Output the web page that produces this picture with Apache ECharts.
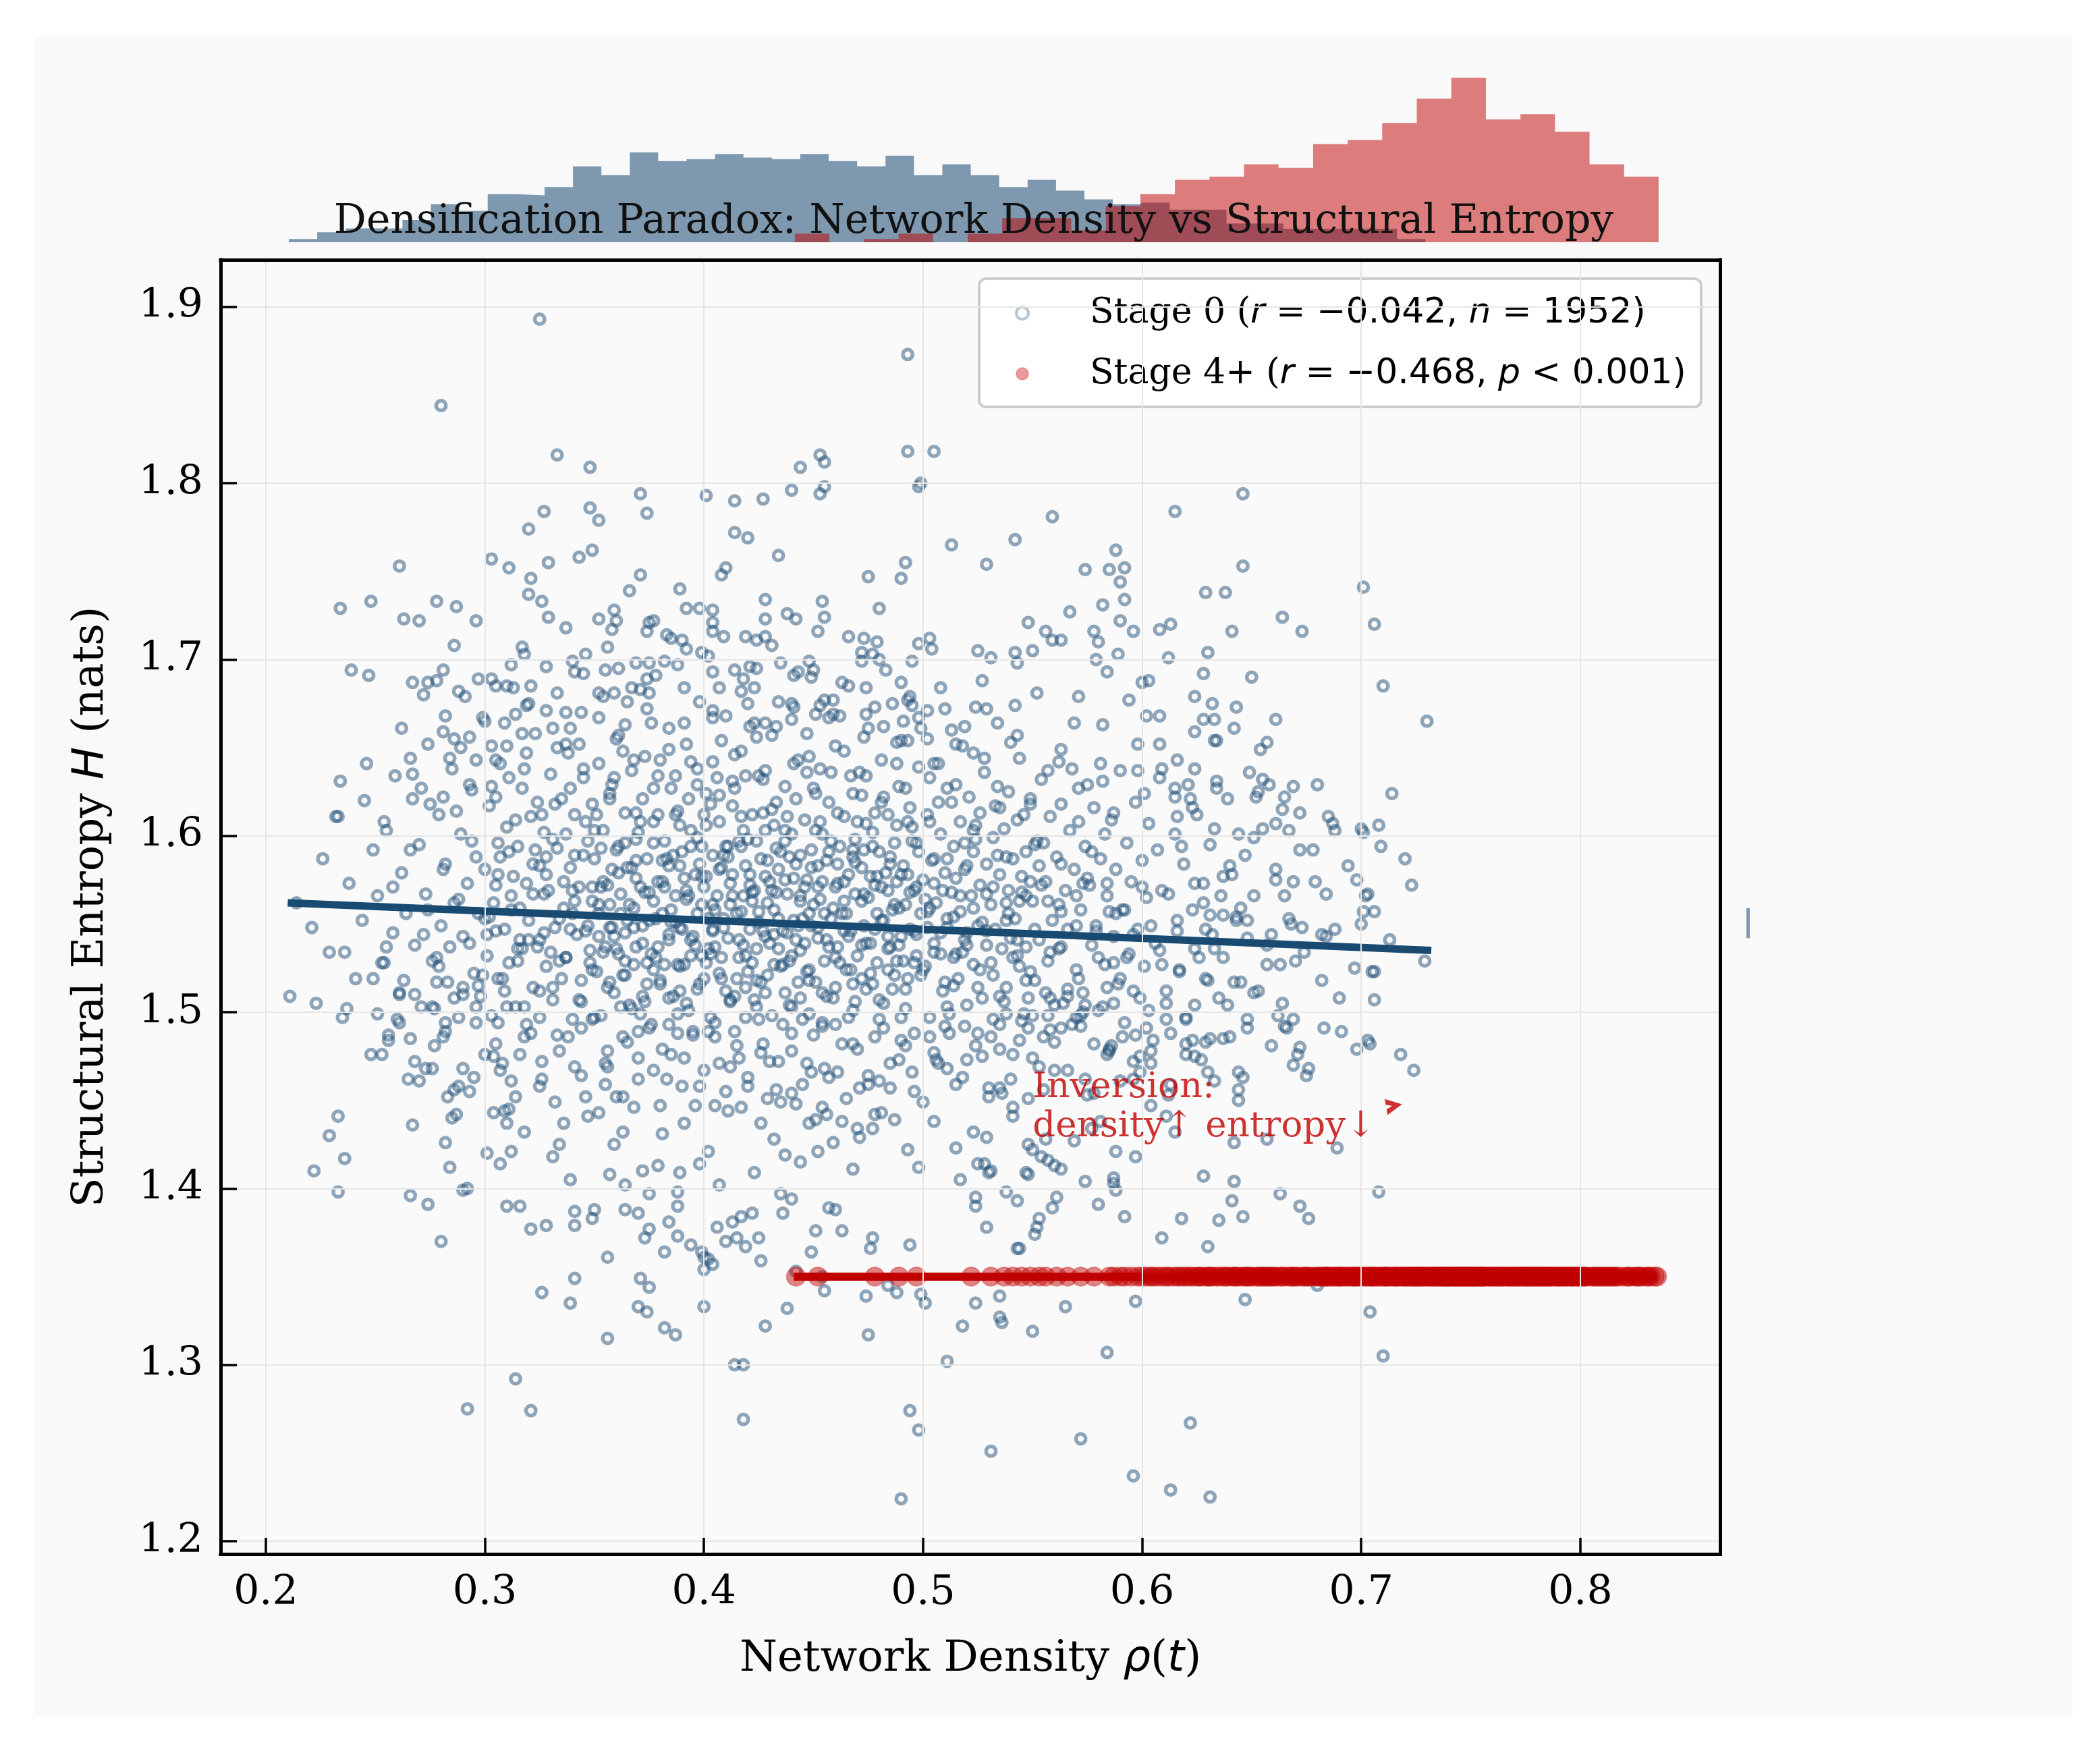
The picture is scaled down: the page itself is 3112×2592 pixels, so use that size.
<!DOCTYPE html>
<html>
<head>
<meta charset="utf-8">
<title>Densification Paradox</title>
<script src="https://cdn.jsdelivr.net/npm/echarts@6/dist/echarts.min.js"></script>
<style>
  html, body { margin: 0; padding: 0; background: #ffffff; }
  #chart { width: 3112px; height: 2592px; }
</style>
</head>
<body>
<div id="chart"></div>
<script>
// Stage 0 nodes: [network density, structural entropy]
const stage0Points = [
  [0.325,1.893],[0.280,1.844],[0.493,1.873],[0.333,1.816],[0.348,1.809],[0.493,1.818],[0.505,1.818],[0.444,1.809],[0.453,1.816],[0.455,1.812],
  [0.440,1.796],[0.453,1.794],[0.455,1.798],[0.498,1.798],[0.499,1.800],[0.371,1.794],[0.374,1.783],[0.327,1.784],[0.348,1.786],[0.352,1.779],
  [0.320,1.774],[0.401,1.793],[0.414,1.790],[0.427,1.791],[0.414,1.772],[0.420,1.769],[0.434,1.759],[0.349,1.762],[0.343,1.758],[0.329,1.755],
  [0.303,1.757],[0.311,1.752],[0.261,1.753],[0.321,1.746],[0.320,1.737],[0.326,1.733],[0.329,1.724],[0.371,1.748],[0.366,1.739],[0.389,1.740],
  [0.410,1.752],[0.408,1.748],[0.428,1.734],[0.475,1.747],[0.490,1.746],[0.492,1.755],[0.513,1.765],[0.480,1.729],[0.454,1.733],[0.438,1.726],
  [0.442,1.723],[0.455,1.724],[0.428,1.723],[0.392,1.729],[0.398,1.729],[0.404,1.728],[0.404,1.721],[0.404,1.716],[0.409,1.713],[0.419,1.713],
  [0.424,1.711],[0.428,1.713],[0.359,1.728],[0.360,1.722],[0.358,1.717],[0.352,1.723],[0.375,1.721],[0.377,1.722],[0.374,1.716],[0.385,1.712],
  [0.390,1.711],[0.392,1.706],[0.399,1.704],[0.234,1.729],[0.248,1.733],[0.263,1.723],[0.270,1.722],[0.278,1.733],[0.287,1.730],[0.296,1.722],
  [0.286,1.708],[0.317,1.707],[0.239,1.694],[0.247,1.691],[0.267,1.687],[0.274,1.687],[0.272,1.680],[0.281,1.694],[0.288,1.682],[0.291,1.679],
  [0.303,1.689],[0.305,1.685],[0.310,1.685],[0.321,1.685],[0.328,1.696],[0.340,1.699],[0.341,1.693],[0.346,1.703],[0.345,1.692],[0.355,1.694],
  [0.361,1.695],[0.369,1.698],[0.375,1.698],[0.382,1.699],[0.388,1.697],[0.378,1.691],[0.352,1.681],[0.359,1.681],[0.367,1.684],[0.371,1.683],
  [0.375,1.681],[0.391,1.684],[0.404,1.693],[0.414,1.694],[0.407,1.684],[0.421,1.696],[0.424,1.695],[0.435,1.698],[0.441,1.691],[0.448,1.699],
  [0.450,1.694],[0.449,1.690],[0.466,1.713],[0.473,1.712],[0.479,1.710],[0.472,1.704],[0.472,1.699],[0.480,1.700],[0.498,1.709],[0.504,1.706],
  [0.495,1.699],[0.466,1.685],[0.474,1.684],[0.490,1.687],[0.494,1.679],[0.493,1.677],[0.495,1.674],[0.502,1.671],[0.510,1.672],[0.455,1.677],
  [0.453,1.674],[0.440,1.675],[0.420,1.675],[0.459,1.669],[0.451,1.669],[0.440,1.666],[0.404,1.667],[0.423,1.664],[0.428,1.664],[0.474,1.669],
  [0.482,1.662],[0.490,1.654],[0.502,1.655],[0.491,1.665],[0.513,1.660],[0.282,1.668],[0.281,1.659],[0.286,1.655],[0.293,1.656],[0.289,1.650],
  [0.300,1.665],[0.303,1.651],[0.310,1.651],[0.314,1.669],[0.320,1.675],[0.317,1.658],[0.266,1.644],[0.267,1.635],[0.284,1.644],[0.234,1.631],
  [0.245,1.620],[0.233,1.611],[0.254,1.608],[0.275,1.618],[0.281,1.622],[0.293,1.629],[0.307,1.641],[0.311,1.633],[0.333,1.650],[0.339,1.661],
  [0.344,1.670],[0.337,1.670],
  [0.646,1.794],[0.615,1.784],[0.559,1.781],[0.542,1.768],[0.529,1.754],[0.588,1.762],[0.574,1.751],[0.585,1.751],[0.592,1.752],[0.590,1.744],
  [0.646,1.753],[0.701,1.741],[0.629,1.738],[0.638,1.738],[0.582,1.731],[0.567,1.727],[0.592,1.734],[0.548,1.721],[0.590,1.722],[0.596,1.716],
  [0.578,1.716],[0.580,1.710],[0.608,1.717],[0.613,1.720],[0.641,1.716],[0.664,1.724],[0.673,1.716],[0.706,1.720],[0.559,1.711],[0.563,1.711],
  [0.542,1.704],[0.543,1.698],[0.550,1.705],[0.525,1.705],[0.579,1.700],[0.589,1.703],[0.630,1.704],[0.628,1.692],[0.650,1.690],[0.600,1.687],
  [0.710,1.685],[0.730,1.665],[0.624,1.679],[0.632,1.675],[0.643,1.673],[0.608,1.668],[0.661,1.666],[0.628,1.666],[0.633,1.666],[0.624,1.659],
  [0.634,1.654],[0.657,1.653],[0.654,1.649],[0.616,1.643],[0.598,1.637],[0.608,1.633],[0.634,1.631],[0.634,1.627],[0.658,1.629],[0.653,1.625],
  [0.652,1.622],[0.669,1.628],[0.680,1.629],[0.714,1.624],[0.615,1.627],[0.615,1.622],[0.622,1.621],[0.623,1.616],[0.664,1.615],[0.661,1.607],
  [0.667,1.603],[0.672,1.613],[0.687,1.607],[0.688,1.603],[0.700,1.604],[0.701,1.602],[0.708,1.606],[0.651,1.599],[0.678,1.592],[0.720,1.587],
  [0.698,1.575],[0.684,1.567],[0.661,1.575],[0.669,1.574],[0.637,1.577],[0.665,1.566],[0.703,1.567],[0.700,1.550],[0.705,1.523],[0.704,1.482],
  [0.724,1.467],[0.690,1.508],[0.684,1.543],[0.669,1.470],[0.672,1.480],[0.665,1.492],
  [0.211,1.509],[0.223,1.505],[0.237,1.502],[0.236,1.534],[0.249,1.519],[0.251,1.499],[0.253,1.476],[0.256,1.484],[0.266,1.485],[0.260,1.496],
  [0.261,1.494],[0.254,1.528],[0.261,1.510],[0.268,1.510],[0.278,1.517],[0.278,1.531],[0.284,1.537],[0.276,1.503],[0.277,1.502],[0.282,1.494],
  [0.281,1.486],[0.290,1.514],[0.290,1.510],[0.296,1.503],[0.297,1.515],[0.296,1.494],[0.233,1.441],[0.229,1.430],[0.236,1.417],[0.222,1.410],
  [0.233,1.398],[0.267,1.436],[0.266,1.396],[0.274,1.391],[0.280,1.370],[0.273,1.468],[0.276,1.468],[0.270,1.461],[0.290,1.468],[0.283,1.452],
  [0.286,1.456],[0.288,1.458],[0.285,1.440],[0.287,1.442],[0.282,1.426],[0.284,1.412],[0.290,1.399],[0.292,1.400],[0.301,1.420],[0.307,1.414],
  [0.312,1.421],[0.309,1.444],[0.311,1.445],[0.314,1.452],[0.310,1.437],[0.300,1.476],[0.304,1.475],[0.307,1.467],[0.310,1.390],[0.316,1.390],
  [0.321,1.377],[0.328,1.379],[0.326,1.341],[0.339,1.405],[0.341,1.349],[0.339,1.335],[0.341,1.387],[0.341,1.379],[0.350,1.388],[0.349,1.383],
  [0.314,1.292],[0.292,1.275],[0.321,1.274],[0.356,1.361],[0.356,1.315],[0.364,1.402],[0.364,1.388],[0.370,1.386],[0.372,1.410],[0.375,1.397],
  [0.375,1.377],[0.373,1.372],[0.388,1.373],[0.384,1.381],[0.388,1.390],[0.388,1.398],[0.389,1.409],[0.382,1.364],[0.371,1.349],[0.375,1.344],
  [0.370,1.333],[0.374,1.330],[0.382,1.321],[0.387,1.317],[0.394,1.368],[0.399,1.364],[0.400,1.361],[0.404,1.357],[0.400,1.354],[0.402,1.360],
  [0.400,1.333],[0.406,1.378],[0.410,1.370],[0.415,1.372],[0.413,1.381],[0.417,1.384],[0.422,1.386],[0.419,1.367],[0.425,1.372],[0.426,1.359],
  [0.428,1.322],[0.414,1.300],[0.418,1.300],[0.418,1.269],[0.435,1.397],[0.436,1.386],[0.440,1.394],[0.438,1.332],[0.449,1.364],[0.442,1.353],
  [0.454,1.350],[0.455,1.342],[0.474,1.339],[0.475,1.317],[0.451,1.376],[0.463,1.376],[0.477,1.372],[0.476,1.366],[0.494,1.368],[0.488,1.341],
  [0.484,1.345],[0.499,1.340],[0.501,1.335],[0.511,1.302],[0.494,1.274],[0.498,1.263],[0.490,1.224],[0.518,1.322],[0.457,1.389],[0.460,1.388],
  [0.448,1.437],[0.451,1.439],[0.456,1.442],[0.463,1.438],[0.470,1.434],[0.477,1.434],[0.442,1.448],
  [0.531,1.251],[0.572,1.258],[0.596,1.237],[0.613,1.229],[0.631,1.225],[0.622,1.267],[0.584,1.307],[0.710,1.305],[0.704,1.330],[0.550,1.319],
  [0.535,1.327],[0.536,1.324],[0.565,1.333],[0.524,1.335],[0.597,1.336],[0.647,1.337],[0.680,1.345],[0.535,1.339],[0.543,1.366],[0.544,1.366],
  [0.529,1.378],[0.551,1.374],[0.552,1.378],[0.553,1.383],[0.609,1.372],[0.630,1.367],[0.618,1.383],[0.635,1.382],[0.646,1.384],[0.592,1.384],
  [0.580,1.391],[0.561,1.395],[0.559,1.389],[0.574,1.404],[0.587,1.406],[0.587,1.403],[0.588,1.399],[0.642,1.404],[0.641,1.393],[0.663,1.397],
  [0.672,1.390],[0.676,1.383],[0.708,1.398],[0.538,1.398],[0.543,1.393],[0.524,1.390],[0.524,1.395],[0.548,1.408],[0.531,1.410],[0.528,1.414],
  [0.557,1.416],[0.560,1.413],[0.563,1.411],[0.554,1.418],[0.550,1.422],[0.548,1.425],[0.530,1.409],[0.525,1.414],[0.689,1.423],[0.698,1.479],
  [0.703,1.484],[0.671,1.476],[0.675,1.464],[0.683,1.491],[0.664,1.505],[0.662,1.498],[0.666,1.491],[0.651,1.511],[0.639,1.504],[0.648,1.496],
  [0.648,1.491],[0.637,1.485],[0.631,1.485],[0.629,1.483],[0.623,1.484],[0.624,1.475],[0.620,1.476],[0.604,1.478],[0.599,1.475],[0.596,1.472],
  [0.644,1.466],[0.644,1.456],[0.644,1.450],[0.633,1.461],[0.620,1.496],[0.611,1.505],[0.611,1.496],[0.602,1.491],[0.603,1.501],[0.585,1.479],
  [0.591,1.486],[0.587,1.505],[0.584,1.514],[0.582,1.503],[0.570,1.497],[0.573,1.500],[0.574,1.504],[0.566,1.509],[0.560,1.504],[0.558,1.490],
  [0.557,1.498],[0.550,1.498],[0.548,1.491],[0.538,1.499],[0.532,1.496],[0.624,1.504],[0.630,1.518],[0.626,1.531],[0.657,1.527],[0.670,1.529],
  [0.706,1.523],[0.701,1.557],[0.706,1.557],[0.682,1.544],[0.673,1.548],[0.668,1.550],[0.648,1.552],[0.643,1.554],[0.637,1.555],[0.631,1.555],
  [0.214,1.562],[0.221,1.548],[0.226,1.587],[0.229,1.534],[0.232,1.611],[0.235,1.497],[0.238,1.573],[0.241,1.519],[0.244,1.552],[0.246,1.641],
  [0.248,1.476],[0.249,1.592],
  [0.251,1.566],[0.253,1.528],[0.255,1.603],[0.256,1.487],[0.258,1.545],[0.259,1.634],[0.261,1.511],[0.262,1.579],[0.264,1.556],[0.265,1.462],
  [0.267,1.621],[0.268,1.538],[0.270,1.595],[0.271,1.503],[0.273,1.567],[0.274,1.652],[0.276,1.529],[0.277,1.481],[0.279,1.612],[0.280,1.549],
  [0.282,1.584],[0.283,1.517],[0.285,1.638],[0.286,1.562],[0.288,1.497],[0.289,1.601],[0.290,1.543],[0.292,1.573],[0.293,1.455],[0.294,1.626],
  [0.295,1.522],[0.296,1.588],[0.297,1.556],[0.298,1.509],[0.299,1.667],
  [0.300,1.581],[0.301,1.532],[0.302,1.617],[0.303,1.498],[0.304,1.562],[0.305,1.643],[0.306,1.519],[0.307,1.588],[0.308,1.471],[0.309,1.547],
  [0.310,1.605],[0.311,1.528],[0.312,1.566],[0.313,1.684],[0.314,1.503],[0.315,1.594],[0.316,1.541],[0.317,1.627],[0.318,1.486],[0.319,1.573],
  [0.320,1.552],[0.321,1.611],[0.322,1.514],[0.323,1.658],[0.324,1.537],[0.325,1.583],[0.326,1.462],[0.327,1.602],[0.328,1.526],[0.329,1.569],
  [0.330,1.635],[0.331,1.507],[0.332,1.548],[0.333,1.593],[0.334,1.478],[0.335,1.621],[0.336,1.559],[0.337,1.531],[0.338,1.647],[0.339,1.582],
  [0.340,1.496],[0.341,1.612],[0.342,1.544],[0.343,1.571],[0.344,1.518],[0.345,1.633],[0.346,1.452],[0.347,1.597],[0.348,1.535],[0.349,1.563],
  [0.302,1.554],[0.306,1.596],[0.309,1.512],[0.313,1.577],[0.317,1.536],[0.321,1.488],[0.324,1.619],[0.327,1.545],[0.331,1.661],[0.334,1.529],
  [0.337,1.601],[0.341,1.563],[0.344,1.491],[0.347,1.549],[0.349,1.618],[0.304,1.443],[0.319,1.674],[0.336,1.437],[0.343,1.652],[0.328,1.588],
  [0.350,1.587],[0.351,1.523],[0.352,1.641],[0.352,1.556],[0.353,1.498],[0.354,1.603],[0.355,1.537],[0.356,1.572],[0.356,1.469],[0.357,1.624],
  [0.358,1.548],[0.359,1.511],[0.360,1.592],[0.360,1.655],[0.361,1.533],[0.362,1.567],[0.363,1.486],[0.364,1.613],[0.364,1.545],[0.365,1.582],
  [0.366,1.504],[0.367,1.637],[0.368,1.559],[0.368,1.527],[0.369,1.598],[0.370,1.474],[0.371,1.571],[0.372,1.621],[0.372,1.539],[0.373,1.506],
  [0.374,1.587],[0.375,1.552],[0.376,1.664],[0.376,1.493],[0.377,1.608],[0.378,1.531],[0.379,1.574],[0.380,1.518],[0.380,1.643],[0.381,1.556],
  [0.382,1.597],[0.383,1.462],[0.384,1.541],[0.384,1.583],[0.385,1.627],[0.386,1.509],[0.387,1.566],[0.388,1.488],[0.388,1.614],[0.389,1.548],
  [0.390,1.591],[0.391,1.527],[0.392,1.652],[0.392,1.569],[0.393,1.501],[0.394,1.603],[0.395,1.543],[0.396,1.578],[0.396,1.447],[0.397,1.629],
  [0.398,1.516],[0.399,1.561],[0.399,1.594],
  [0.351,1.612],[0.353,1.571],[0.355,1.459],[0.357,1.548],[0.359,1.633],[0.361,1.594],[0.363,1.521],[0.365,1.676],[0.367,1.582],[0.369,1.537],
  [0.371,1.499],[0.373,1.645],[0.375,1.568],[0.377,1.524],[0.379,1.612],[0.381,1.479],[0.383,1.587],[0.385,1.551],[0.387,1.634],[0.389,1.512],
  [0.391,1.576],[0.393,1.621],[0.395,1.487],[0.397,1.556],[0.399,1.532],[0.354,1.534],[0.358,1.581],[0.362,1.503],[0.366,1.561],[0.370,1.602],
  [0.374,1.528],[0.378,1.553],[0.382,1.527],[0.386,1.589],[0.390,1.547],[0.394,1.532],[0.398,1.584],
  [0.400,1.571],[0.401,1.528],[0.401,1.624],[0.402,1.553],[0.403,1.497],[0.404,1.589],[0.404,1.642],[0.405,1.537],[0.406,1.566],[0.407,1.471],
  [0.407,1.608],[0.408,1.519],[0.409,1.553],[0.410,1.594],[0.410,1.668],[0.411,1.542],[0.412,1.506],[0.413,1.578],[0.413,1.617],[0.414,1.489],
  [0.415,1.556],[0.416,1.531],[0.416,1.597],[0.417,1.648],[0.418,1.566],[0.419,1.514],[0.419,1.583],[0.420,1.458],[0.421,1.547],[0.422,1.612],
  [0.422,1.528],[0.423,1.569],[0.424,1.503],[0.425,1.634],[0.425,1.551],[0.426,1.587],[0.427,1.482],[0.428,1.543],[0.428,1.603],[0.429,1.521],
  [0.430,1.574],[0.431,1.657],[0.431,1.498],[0.432,1.558],[0.433,1.619],[0.434,1.536],[0.434,1.472],[0.435,1.591],[0.436,1.546],[0.437,1.511],
  [0.437,1.628],[0.438,1.567],[0.439,1.529],[0.440,1.601],[0.440,1.454],[0.441,1.552],[0.442,1.584],[0.443,1.517],[0.443,1.643],[0.444,1.563],
  [0.445,1.496],[0.446,1.609],[0.446,1.539],[0.447,1.575],[0.448,1.524],[0.449,1.592],[0.449,1.466],
  [0.400,1.612],[0.402,1.489],[0.404,1.547],[0.406,1.633],[0.408,1.582],[0.410,1.512],[0.412,1.561],[0.414,1.627],[0.416,1.474],[0.418,1.538],
  [0.420,1.598],[0.422,1.563],[0.424,1.656],[0.426,1.517],[0.428,1.577],[0.430,1.539],[0.432,1.606],[0.434,1.581],[0.436,1.493],[0.438,1.545],
  [0.440,1.532],[0.442,1.621],[0.444,1.508],[0.446,1.571],[0.448,1.556],[0.403,1.533],[0.407,1.581],[0.411,1.594],[0.415,1.519],[0.419,1.634],
  [0.423,1.507],[0.427,1.613],[0.431,1.569],[0.435,1.526],[0.439,1.588],[0.443,1.549],[0.447,1.636],[0.405,1.447],[0.417,1.682],[0.429,1.451],
  [0.441,1.673],[0.433,1.593],[0.421,1.578],
  [0.450,1.561],[0.451,1.517],[0.451,1.603],[0.452,1.548],[0.453,1.638],[0.454,1.492],[0.454,1.574],[0.455,1.529],[0.456,1.586],[0.457,1.463],
  [0.457,1.619],[0.458,1.553],[0.459,1.508],[0.460,1.571],[0.460,1.651],[0.461,1.537],[0.462,1.594],[0.463,1.482],[0.463,1.556],[0.464,1.611],
  [0.465,1.524],[0.466,1.578],[0.466,1.543],[0.467,1.634],[0.468,1.501],[0.469,1.567],[0.469,1.598],[0.470,1.532],[0.471,1.457],[0.472,1.582],
  [0.472,1.623],[0.473,1.549],[0.474,1.513],[0.475,1.565],[0.475,1.661],[0.476,1.539],[0.477,1.602],[0.478,1.486],[0.478,1.572],[0.479,1.528],
  [0.480,1.591],[0.481,1.552],[0.481,1.643],[0.482,1.505],[0.483,1.579],[0.484,1.536],[0.484,1.612],[0.485,1.471],[0.486,1.558],[0.487,1.596],
  [0.487,1.521],[0.488,1.574],[0.489,1.628],[0.490,1.543],[0.490,1.497],[0.491,1.583],[0.492,1.561],[0.493,1.519],[0.493,1.654],[0.494,1.547],
  [0.495,1.605],[0.496,1.488],[0.496,1.569],[0.497,1.532],[0.498,1.591],[0.499,1.556],
  [0.450,1.627],[0.452,1.583],[0.454,1.446],[0.456,1.541],[0.458,1.597],[0.460,1.514],[0.462,1.668],[0.464,1.563],[0.466,1.497],[0.468,1.588],
  [0.470,1.608],[0.472,1.519],[0.474,1.634],[0.476,1.577],[0.478,1.547],[0.480,1.461],[0.482,1.622],[0.484,1.569],[0.486,1.513],[0.488,1.606],
  [0.490,1.578],[0.492,1.481],[0.494,1.616],[0.496,1.528],[0.498,1.639],[0.455,1.556],[0.461,1.584],[0.467,1.524],[0.473,1.592],[0.479,1.556],
  [0.485,1.537],[0.491,1.529],[0.497,1.571],[0.459,1.677],
  [0.500,1.575],[0.501,1.526],[0.502,1.612],[0.502,1.548],[0.503,1.497],[0.504,1.586],[0.505,1.641],[0.505,1.534],[0.506,1.562],[0.507,1.471],
  [0.508,1.601],[0.508,1.545],[0.509,1.512],[0.510,1.579],[0.511,1.627],[0.511,1.553],[0.512,1.488],[0.513,1.568],[0.514,1.531],[0.514,1.594],
  [0.515,1.652],[0.516,1.519],[0.517,1.557],[0.517,1.608],[0.518,1.463],[0.519,1.541],[0.520,1.583],[0.520,1.504],[0.521,1.622],[0.522,1.566],
  [0.523,1.527],[0.523,1.591],[0.524,1.481],[0.525,1.549],[0.526,1.613],[0.526,1.572],[0.527,1.508],[0.528,1.636],[0.529,1.538],[0.529,1.584],
  [0.530,1.457],[0.531,1.561],[0.532,1.599],[0.532,1.521],[0.533,1.547],[0.534,1.664],[0.535,1.578],[0.535,1.493],[0.536,1.536],[0.537,1.604],
  [0.538,1.562],[0.538,1.514],[0.539,1.625],[0.540,1.542],[0.541,1.476],[0.541,1.587],[0.542,1.553],[0.543,1.609],[0.544,1.526],[0.544,1.644],
  [0.545,1.568],[0.546,1.499],[0.547,1.591],[0.547,1.537],[0.548,1.451],[0.549,1.574],[0.549,1.618],
  [0.503,1.559],[0.507,1.619],[0.511,1.503],[0.515,1.576],[0.519,1.596],[0.523,1.647],[0.527,1.551],[0.531,1.486],[0.535,1.616],[0.539,1.569],
  [0.543,1.532],[0.547,1.566],[0.506,1.473],[0.518,1.534],[0.524,1.673],[0.536,1.454],[0.542,1.674],[0.548,1.508],
  [0.550,1.563],[0.551,1.518],[0.552,1.597],[0.553,1.541],[0.554,1.632],[0.555,1.486],[0.556,1.574],[0.557,1.529],[0.558,1.611],[0.559,1.552],
  [0.560,1.467],[0.561,1.588],[0.562,1.536],[0.563,1.649],[0.564,1.505],[0.565,1.569],[0.566,1.547],[0.567,1.603],[0.568,1.493],[0.569,1.581],
  [0.570,1.524],[0.571,1.627],[0.572,1.558],[0.573,1.511],[0.574,1.594],[0.575,1.453],[0.576,1.572],[0.577,1.538],[0.578,1.616],[0.579,1.549],
  [0.580,1.501],[0.581,1.587],[0.582,1.663],[0.583,1.527],[0.584,1.566],[0.585,1.478],[0.586,1.609],[0.587,1.543],[0.588,1.581],[0.589,1.516],
  [0.590,1.637],[0.591,1.558],[0.592,1.494],[0.593,1.596],[0.594,1.533],[0.595,1.574],[0.596,1.462],[0.597,1.619],[0.598,1.547],[0.599,1.508],
  [0.553,1.583],[0.558,1.508],[0.563,1.557],[0.568,1.638],[0.573,1.573],[0.578,1.482],[0.583,1.601],[0.588,1.556],[0.593,1.531],[0.598,1.652],
  [0.600,1.571],[0.601,1.526],[0.603,1.607],[0.604,1.549],[0.605,1.484],[0.607,1.592],[0.608,1.535],[0.609,1.638],[0.611,1.512],[0.612,1.567],
  [0.613,1.459],[0.615,1.601],[0.616,1.546],[0.617,1.523],[0.619,1.584],[0.620,1.497],[0.621,1.629],[0.623,1.558],[0.624,1.536],[0.625,1.612],
  [0.627,1.473],[0.628,1.573],[0.629,1.519],[0.631,1.595],[0.632,1.544],[0.633,1.654],[0.635,1.508],[0.636,1.566],[0.637,1.531],[0.639,1.621],
  [0.640,1.486],[0.641,1.578],[0.643,1.552],[0.644,1.601],[0.645,1.517],[0.646,1.463],[0.647,1.589],[0.648,1.542],[0.649,1.636],[0.602,1.668],
  [0.651,1.566],[0.653,1.512],[0.655,1.604],[0.657,1.538],[0.659,1.481],[0.661,1.581],[0.663,1.527],[0.665,1.622],[0.667,1.553],[0.669,1.496],
  [0.672,1.592],[0.674,1.534],[0.676,1.468],[0.679,1.574],[0.682,1.518],[0.685,1.611],[0.688,1.547],[0.691,1.489],[0.694,1.583],[0.697,1.525],
  [0.702,1.566],[0.706,1.507],[0.709,1.594],[0.713,1.541],[0.718,1.476],[0.723,1.572],[0.729,1.529],
  [0.262,1.661],[0.271,1.627],[0.278,1.688],[0.287,1.614],[0.296,1.643],[0.305,1.622],[0.312,1.697],[0.318,1.638],[0.326,1.612],[0.333,1.681],
  [0.339,1.627],[0.346,1.608],[0.352,1.667],[0.358,1.629],[0.363,1.648],[0.369,1.613],[0.374,1.689],[0.379,1.634],[0.384,1.661],[0.389,1.606],
  [0.394,1.642],[0.398,1.676],[0.403,1.618],[0.408,1.654],[0.413,1.631],[0.418,1.603],[0.423,1.684],[0.428,1.637],[0.433,1.662],[0.438,1.611],
  [0.443,1.693],[0.448,1.645],[0.453,1.608],[0.458,1.636],[0.463,1.687],[0.468,1.624],[0.473,1.656],[0.478,1.613],[0.483,1.694],[0.488,1.641],
  [0.493,1.608],[0.498,1.667],[0.503,1.633],[0.508,1.684],[0.513,1.619],[0.518,1.651],[0.524,1.606],[0.529,1.672],[0.534,1.628],[0.540,1.653],
  [0.546,1.612],[0.552,1.681],[0.557,1.637],[0.563,1.618],[0.569,1.664],[0.575,1.629],[0.581,1.641],[0.587,1.613],[0.594,1.677],[0.601,1.624],
  [0.608,1.652],[0.616,1.611],[0.624,1.638],[0.633,1.604],[0.642,1.661],[0.655,1.632],
  [0.258,1.571],[0.266,1.592],[0.274,1.558],[0.281,1.581],[0.288,1.564],[0.294,1.597],[0.300,1.553],[0.306,1.578],[0.311,1.591],[0.316,1.559],
  [0.322,1.584],[0.327,1.567],[0.331,1.598],[0.336,1.574],[0.340,1.556],[0.345,1.589],[0.349,1.571],[0.353,1.593],[0.357,1.561],[0.361,1.579],
  [0.365,1.552],[0.369,1.586],[0.373,1.568],[0.377,1.596],[0.381,1.574],[0.385,1.558],[0.389,1.583],[0.393,1.566],[0.397,1.599],[0.401,1.577],
  [0.405,1.558],[0.409,1.589],[0.413,1.566],[0.417,1.594],[0.421,1.572],[0.425,1.557],[0.429,1.586],[0.433,1.568],[0.437,1.597],[0.441,1.576],
  [0.445,1.553],[0.449,1.582],[0.453,1.564],[0.457,1.591],[0.461,1.573],[0.465,1.556],[0.469,1.585],[0.473,1.567],[0.477,1.594],[0.481,1.571],
  [0.485,1.588],[0.489,1.559],[0.493,1.578],[0.497,1.596],[0.501,1.564],[0.505,1.587],[0.509,1.569],[0.514,1.554],[0.519,1.581],[0.524,1.598],
  [0.529,1.567],[0.534,1.589],[0.539,1.556],[0.545,1.577],[0.551,1.595],[0.557,1.563],[0.563,1.584],[0.570,1.566],[0.577,1.591],[0.584,1.573],
  [0.592,1.558],[0.600,1.586],[0.609,1.569],[0.618,1.594],[0.628,1.562],[0.640,1.583],
  [0.255,1.537],[0.263,1.518],[0.272,1.544],[0.279,1.526],[0.286,1.508],[0.293,1.539],[0.299,1.521],[0.305,1.546],[0.310,1.503],[0.315,1.529],
  [0.320,1.541],[0.325,1.512],[0.330,1.534],[0.335,1.519],[0.339,1.547],[0.344,1.506],[0.348,1.528],[0.352,1.543],[0.356,1.514],[0.360,1.536],
  [0.364,1.521],[0.368,1.548],[0.372,1.509],[0.376,1.533],[0.380,1.516],[0.384,1.544],[0.388,1.527],[0.392,1.505],[0.396,1.538],[0.400,1.519],
  [0.404,1.546],[0.408,1.531],[0.412,1.507],[0.416,1.541],[0.420,1.523],[0.424,1.536],[0.428,1.511],[0.432,1.544],[0.436,1.527],[0.440,1.503],
  [0.444,1.535],[0.448,1.518],[0.452,1.542],[0.456,1.509],[0.460,1.531],[0.464,1.546],[0.468,1.516],[0.472,1.538],[0.476,1.522],[0.480,1.507],
  [0.484,1.543],[0.488,1.529],[0.492,1.513],[0.496,1.546],[0.500,1.524],[0.505,1.539],[0.510,1.517],[0.515,1.533],[0.520,1.545],[0.525,1.514],
  [0.531,1.528],[0.537,1.506],[0.543,1.541],[0.549,1.523],[0.556,1.511],[0.563,1.537],[0.571,1.519],[0.579,1.546],[0.587,1.528],[0.596,1.512],
  [0.606,1.539],[0.617,1.524],[0.629,1.547],[0.642,1.517],
  [0.268,1.472],[0.282,1.489],[0.295,1.463],[0.306,1.494],[0.316,1.476],[0.325,1.458],[0.333,1.487],[0.341,1.469],[0.349,1.496],[0.356,1.478],
  [0.363,1.452],[0.370,1.489],[0.377,1.467],[0.384,1.493],[0.391,1.474],[0.398,1.458],[0.405,1.486],[0.412,1.469],[0.419,1.497],[0.426,1.477],
  [0.433,1.456],[0.440,1.488],[0.447,1.471],[0.454,1.494],[0.461,1.466],[0.468,1.482],[0.475,1.459],[0.482,1.491],[0.489,1.473],[0.496,1.455],
  [0.503,1.486],[0.511,1.468],[0.519,1.492],[0.527,1.475],[0.535,1.457],[0.544,1.484],[0.553,1.469],[0.563,1.491],[0.574,1.462],[0.586,1.481],
  [0.599,1.466],[0.613,1.488],
  [0.318,1.432],[0.331,1.418],[0.347,1.441],[0.359,1.425],[0.368,1.446],[0.379,1.413],[0.391,1.437],[0.402,1.421],[0.411,1.444],[0.423,1.409],
  [0.432,1.428],[0.444,1.415],[0.459,1.426],[0.468,1.411],[0.481,1.443],[0.493,1.422],[0.505,1.438],[0.517,1.405],[0.529,1.429],[0.541,1.441],
  [0.569,1.427],[0.581,1.438],[0.597,1.418],[0.615,1.432],[0.628,1.407],[0.657,1.428],
  [0.303,1.628],[0.309,1.664],[0.314,1.609],[0.319,1.647],[0.323,1.592],[0.328,1.671],[0.332,1.618],[0.337,1.652],[0.341,1.589],[0.345,1.638],
  [0.350,1.603],[0.354,1.679],[0.357,1.621],[0.361,1.657],[0.364,1.596],[0.368,1.643],[0.371,1.608],[0.374,1.672],[0.377,1.627],[0.381,1.586],
  [0.384,1.649],[0.387,1.612],[0.391,1.664],[0.394,1.594],[0.397,1.638],[0.401,1.606],[0.404,1.671],[0.407,1.623],[0.411,1.588],[0.414,1.646],
  [0.417,1.611],[0.421,1.662],[0.424,1.597],[0.427,1.632],[0.431,1.615],[0.434,1.676],[0.437,1.603],[0.441,1.641],[0.444,1.589],[0.447,1.658],
  [0.451,1.624],[0.454,1.601],[0.457,1.667],[0.461,1.613],[0.464,1.648],[0.468,1.592],[0.471,1.636],[0.474,1.607],[0.478,1.673],[0.481,1.619],
  [0.485,1.584],[0.488,1.653],[0.492,1.627],[0.495,1.597],[0.499,1.661],[0.503,1.608],[0.507,1.641],[0.511,1.587],[0.515,1.629],[0.519,1.662],
  [0.523,1.603],[0.528,1.644],[0.533,1.617],[0.538,1.588],[0.543,1.657],[0.549,1.621],[0.555,1.596],[0.562,1.642],[0.571,1.608],[0.582,1.631],
  [0.301,1.544],[0.305,1.572],[0.308,1.519],[0.312,1.558],[0.315,1.536],[0.318,1.503],[0.322,1.567],[0.325,1.541],[0.328,1.578],[0.331,1.514],
  [0.334,1.553],[0.337,1.531],[0.340,1.569],[0.343,1.507],[0.346,1.546],[0.349,1.524],[0.352,1.561],[0.354,1.574],[0.357,1.517],[0.359,1.543],
  [0.362,1.556],[0.364,1.529],[0.367,1.502],[0.369,1.576],[0.372,1.549],[0.374,1.516],[0.377,1.563],[0.379,1.537],[0.382,1.571],[0.384,1.508],
  [0.387,1.551],[0.389,1.526],[0.392,1.564],[0.394,1.541],[0.397,1.513],[0.399,1.577],[0.402,1.536],[0.404,1.561],[0.407,1.522],[0.409,1.548],
  [0.412,1.573],[0.414,1.509],[0.417,1.557],[0.419,1.532],[0.422,1.568],[0.424,1.518],[0.427,1.546],[0.429,1.562],[0.432,1.527],[0.434,1.553],
  [0.437,1.575],[0.439,1.504],[0.442,1.541],[0.444,1.566],[0.447,1.523],[0.449,1.549],[0.452,1.571],[0.454,1.511],[0.457,1.537],[0.459,1.559],
  [0.462,1.528],[0.464,1.574],[0.467,1.546],[0.469,1.506],[0.472,1.563],[0.474,1.539],[0.477,1.516],[0.479,1.577],[0.482,1.552],[0.484,1.524],
  [0.487,1.561],[0.489,1.538],[0.492,1.502],[0.494,1.568],[0.497,1.544],[0.499,1.521],[0.502,1.557],[0.505,1.573],[0.508,1.533],[0.511,1.548],
  [0.514,1.515],[0.517,1.566],[0.520,1.538],[0.523,1.559],[0.526,1.524],[0.529,1.546],[0.532,1.571],[0.535,1.509],[0.538,1.552],[0.541,1.531],
  [0.544,1.563],[0.547,1.518],[0.551,1.547],[0.554,1.572],[0.558,1.534],[0.562,1.561],[0.566,1.513],[0.570,1.549],[0.575,1.576],[0.580,1.531],
  [0.585,1.557],[0.590,1.519],[0.596,1.544],[0.602,1.565],[0.609,1.527],[0.616,1.552],[0.624,1.573],[0.633,1.536],[0.645,1.559],[0.659,1.544],
  [0.305,1.482],[0.312,1.461],[0.319,1.493],[0.326,1.472],[0.332,1.449],[0.338,1.486],[0.344,1.464],[0.350,1.497],[0.355,1.471],[0.360,1.452],
  [0.365,1.483],[0.370,1.462],[0.375,1.491],[0.380,1.447],[0.385,1.476],[0.390,1.458],[0.395,1.489],[0.400,1.467],[0.405,1.494],[0.410,1.455],
  [0.415,1.481],[0.420,1.463],[0.425,1.496],[0.430,1.472],[0.435,1.449],[0.440,1.478],[0.445,1.459],[0.450,1.487],[0.455,1.468],[0.460,1.493],
  [0.465,1.451],[0.470,1.479],[0.475,1.464],[0.480,1.496],[0.485,1.457],[0.490,1.484],[0.495,1.466],[0.500,1.449],[0.505,1.477],[0.510,1.492],
  [0.515,1.459],[0.520,1.473],[0.525,1.488],[0.530,1.452],[0.535,1.479],[0.540,1.462],[0.545,1.495],[0.550,1.474],[0.555,1.456],[0.560,1.483],
  [0.566,1.467],[0.572,1.492],[0.578,1.454],[0.584,1.476],[0.590,1.461],[0.597,1.487],[0.604,1.471],[0.612,1.453],[0.620,1.482],[0.630,1.466],
  [0.325,1.497],[0.352,1.443],[0.388,1.499],[0.417,1.446],[0.448,1.499],[0.478,1.442],[0.512,1.499],[0.541,1.446],[0.572,1.498],[0.604,1.447],
  [0.318,1.703],[0.337,1.718],[0.356,1.707],[0.383,1.714],[0.402,1.702],[0.431,1.708],[0.452,1.716],[0.477,1.703],[0.503,1.712],[0.531,1.701],
  [0.556,1.716],[0.584,1.693],[0.612,1.701],[0.297,1.689],[0.364,1.663],[0.418,1.689],[0.486,1.675],[0.527,1.688],[0.571,1.679],[0.603,1.688],
  [0.334,1.425],[0.357,1.408],[0.381,1.431],[0.398,1.414],[0.426,1.437],[0.452,1.421],[0.471,1.429],[0.498,1.412],[0.523,1.432],[0.556,1.428],
  [0.588,1.421],[0.611,1.441],[0.642,1.426],[0.363,1.432],[0.407,1.402],[0.437,1.419],[0.487,1.439],[0.515,1.423],[0.547,1.409],[0.577,1.434]
];

// Stage 4+ nodes: densities, all sitting at one entropy level
const stage4Density = [
  0.442,0.452,0.478,0.489,0.497,0.522,0.531,0.537,0.541,0.545,0.549,0.553,0.556,0.561,0.566,0.572,0.578,
  0.585,0.587,0.590,0.592,0.595,0.598,0.600,0.602,0.604,0.605,0.607,0.609,0.611,0.612,0.614,
  0.616,0.617,0.619,0.620,0.622,0.623,0.625,0.626,0.627,0.629,0.630,
  0.631,0.632,0.634,0.635,0.637,0.638,0.639,0.641,0.642,0.643,0.644,0.646,
  0.647,0.648,0.649,0.650,0.652,0.653,0.654,0.655,0.656,0.657,0.658,0.659,0.660,0.661,
  0.663,0.664,0.665,0.667,0.668,0.669,0.670,0.671,0.673,0.674,0.675,0.676,0.677,
  0.679,0.680,0.681,0.682,0.683,0.684,0.684,0.685,0.686,0.687,0.688,0.689,0.690,0.690,0.691,0.692,0.693,
  0.694,0.695,0.696,0.697,0.697,0.698,0.699,0.700,0.701,0.702,0.703,0.704,0.705,0.705,0.706,0.707,0.708,0.709,
  0.710,0.711,0.711,0.712,0.713,0.714,0.715,0.716,0.716,0.717,0.718,0.719,0.720,0.720,0.721,0.722,0.723,0.723,0.724,0.725,0.725,
  0.726,0.726,0.727,0.728,0.728,0.729,0.730,0.731,0.731,0.732,0.733,0.733,0.734,0.735,0.735,0.736,0.737,0.737,0.738,0.738,0.739,0.739,0.740,0.740,0.741,
  0.742,0.742,0.743,0.743,0.744,0.744,0.745,0.745,0.746,0.746,0.747,0.747,0.748,0.748,0.749,0.749,0.750,0.750,0.751,0.751,0.752,0.752,0.753,0.754,0.754,0.755,0.755,0.756,0.756,
  0.757,0.758,0.759,0.759,0.760,0.761,0.762,0.762,0.763,0.764,0.764,0.765,0.766,0.767,0.767,0.768,0.769,0.769,0.770,0.771,0.771,0.772,
  0.773,0.774,0.774,0.775,0.776,0.776,0.777,0.778,0.778,0.779,0.780,0.780,0.781,0.782,0.782,0.783,0.784,0.784,0.785,0.786,0.786,0.787,0.788,
  0.789,0.790,0.790,0.791,0.792,0.793,0.793,0.794,0.795,0.796,0.796,0.797,0.798,0.799,0.799,0.800,0.801,0.802,0.802,0.803,
  0.805,0.806,0.807,0.808,0.809,0.810,0.811,0.812,0.813,0.814,0.815,0.816,0.817,0.819,
  0.821,0.822,0.823,0.825,0.826,0.827,0.828,0.830,0.831,0.832,0.834,0.835
];
const stage4Entropy = 1.35;

// fitted lines (end points)
const stage0Fit = [[0.210, 1.562], [0.732, 1.535]];
const stage4Fit = [[0.441, 1.350], [0.835, 1.350]];

// marginal histograms of density (normalised)
const stage0HistStart = 0.2105;
const stage0HistWidth = 0.01297;
const stage0HistDensity = [0.13, 0.40, 0.55, 0.55, 0.89, 1.52, 1.25, 1.92, 1.87, 2.20,
  3.03, 2.68, 3.59, 3.24, 3.31, 3.52, 3.38, 3.31, 3.52, 3.24,
  3.03, 3.45, 2.68, 3.11, 2.68, 2.20, 2.49, 2.06, 1.71, 1.52,
  1.58, 1.30, 1.30, 0.75, 0.75, 0.54, 0.54, 0.54, 0.54, 0.13];
const stage4HistStart = 0.4415;
const stage4HistWidth = 0.01577;
const stage4HistDensity = [0.34, 0, 0.13, 0.34, 0, 0.34, 0.96, 0.96, 0.48, 1.45,
  1.92, 2.49, 2.62, 3.11, 2.97, 3.92, 4.08, 4.76, 5.73, 6.56,
  4.90, 5.11, 4.41, 3.11, 2.62];

// the entropy margin shows a single thin bin
const entropyMarginBin = [1.542, 1.559];

// annotation anchors
const annotationPos = [0.55, 1.446];
const arrowPos = [0.715, 1.447];

const SERIF = "'DejaVu Serif', 'Liberation Serif', serif";
const SANS = "'DejaVu Sans', 'Liberation Sans', sans-serif";
const X_MIN = 0.1794, X_MAX = 0.8638;
const Y_MIN = 1.1927, Y_MAX = 1.9267;

function stepData(start, width, values) {
  let out = values.map((v, i) => [start + i * width, v]);
  out.push([start + values.length * width, values[values.length - 1]]);
  return out;
}

function tickFmt(v) {
  return Math.abs(v * 10 - Math.round(v * 10)) < 1e-6 ? v.toFixed(1) : '';
}

const frameLine = { show: true, lineStyle: { color: '#000', width: 5, cap: 'square' } };

const chart = echarts.init(document.getElementById('chart'));

const option = {
  animation: false,
  backgroundColor: 'transparent',
  graphic: [{
    type: 'rect', silent: true, z: -10,
    shape: { x: 50, y: 54, width: 3021, height: 2489 },
    style: { fill: '#f9f9f9' }
  }],
  title: {
    text: 'Densification Paradox: Network Density vs Structural Entropy',
    left: 1438, top: 294, textAlign: 'center',
    textStyle: { fontFamily: SERIF, fontSize: 60, fontWeight: 'normal', color: '#111111' }
  },
  legend: {
    data: [
      { name: 'Stage 0', icon: 'circle', itemStyle: { color: 'rgba(0,0,0,0)', borderColor: 'rgba(26,74,114,0.4)', borderWidth: 4 } },
      { name: 'Stage 4+', icon: 'circle', itemStyle: { color: 'rgba(200,0,0,0.5)', borderColor: 'rgba(200,0,0,0.3)', borderWidth: 2 } }
    ],
    orient: 'vertical',
    left: 1451, top: 413,
    padding: [22, 22, 20, 53],
    itemWidth: 40, itemHeight: 18, itemGap: 32,
    backgroundColor: 'rgba(255,255,255,0.85)',
    borderColor: '#cccccc', borderWidth: 4, borderRadius: 10,
    formatter: function (name) {
      if (name === 'Stage 0') {
        return '{sp|}{t|Stage 0 (}{i|r}{m| = \u22120.042, }{i|n}{m| = 1952)}';
      }
      return '{sp|}{t|Stage 4+ (}{i|r}{m| = \u22120.468, }{i|p}{m| < 0.001)}';
    },
    textStyle: {
      fontFamily: SERIF, fontSize: 52, lineHeight: 58, color: '#000',
      rich: {
        sp: { width: 75 },
        t: { fontFamily: SERIF, fontSize: 52, color: '#000' },
        i: { fontFamily: SANS, fontStyle: 'italic', fontSize: 52, color: '#000' },
        m: { fontFamily: SANS, fontSize: 52, color: '#000' }
      }
    }
  },
  grid: [
    { left: 327, top: 385, width: 2222, height: 1918, show: true, borderWidth: 0, backgroundColor: '#fafafa' },
    { left: 327, top: 102, width: 2222, height: 257 },
    { left: 2588, top: 385, width: 5, height: 1918 }
  ],
  xAxis: [
    {
      gridIndex: 0, type: 'value', min: X_MIN, max: X_MAX, splitNumber: 7, z: 5,
      axisLine: frameLine,
      axisTick: { show: true, inside: true, length: 24, lineStyle: { color: '#000', width: 3.5 } },
      axisLabel: { formatter: tickFmt, fontFamily: SERIF, fontSize: 60, color: '#000', margin: 28 },
      splitLine: { show: true, showMinLine: false, showMaxLine: false, lineStyle: { color: '#e6e6e6', width: 2 } },
      name: '{a|Network Density }{i|\u03c1}{a|(}{i|t}{a|)}',
      nameLocation: 'middle', nameGap: 124,
      nameTextStyle: {
        rich: {
          a: { fontFamily: SERIF, fontSize: 64, color: '#000' },
          i: { fontFamily: SANS, fontStyle: 'italic', fontSize: 64, color: '#000' }
        }
      }
    },
    { gridIndex: 1, type: 'value', min: X_MIN, max: X_MAX, show: false },
    { gridIndex: 2, type: 'value', min: 0, max: 1, show: false },
    {
      gridIndex: 0, type: 'value', position: 'top', min: X_MIN, max: X_MAX, z: 5,
      axisLine: frameLine, axisTick: { show: false }, axisLabel: { show: false }, splitLine: { show: false }
    }
  ],
  yAxis: [
    {
      gridIndex: 0, type: 'value', min: Y_MIN, max: Y_MAX, splitNumber: 7, z: 5,
      axisLine: frameLine,
      axisTick: { show: true, inside: true, length: 24, lineStyle: { color: '#000', width: 3.5 } },
      axisLabel: { formatter: tickFmt, fontFamily: SERIF, fontSize: 60, color: '#000', margin: 26 },
      splitLine: { show: true, showMinLine: false, showMaxLine: false, lineStyle: { color: '#e6e6e6', width: 2 } },
      name: '{a|Structural Entropy }{i|H}{a| (nats)}',
      nameLocation: 'middle', nameGap: 160, nameRotate: 90,
      nameTextStyle: {
        rich: {
          a: { fontFamily: SERIF, fontSize: 64, color: '#000' },
          i: { fontFamily: SANS, fontStyle: 'italic', fontSize: 64, color: '#000' }
        }
      }
    },
    { gridIndex: 1, type: 'value', min: 0, max: 6.92, show: false },
    { gridIndex: 2, type: 'value', min: Y_MIN, max: Y_MAX, show: false },
    {
      gridIndex: 0, type: 'value', position: 'right', min: Y_MIN, max: Y_MAX, z: 5,
      axisLine: frameLine, axisTick: { show: false }, axisLabel: { show: false }, splitLine: { show: false }
    }
  ],
  series: [
    {
      name: 'Stage 0', type: 'scatter', xAxisIndex: 0, yAxisIndex: 0,
      data: stage0Points, symbol: 'circle', symbolSize: 14.5,
      itemStyle: { color: 'rgba(0,0,0,0)', borderColor: 'rgba(26,74,114,0.6)', borderWidth: 5.5 },
      silent: true
    },
    {
      name: 'Stage 4+', type: 'scatter', xAxisIndex: 0, yAxisIndex: 0,
      data: stage4Density.map(d => [d, stage4Entropy]), symbol: 'circle', symbolSize: 28,
      itemStyle: { color: 'rgba(195,0,0,0.6)', borderColor: 'rgba(195,0,0,0.35)', borderWidth: 2 },
      silent: true
    },
    {
      name: 'fit0', type: 'line', xAxisIndex: 0, yAxisIndex: 0, data: stage0Fit,
      symbol: 'none', lineStyle: { color: '#184a72', width: 11 }, silent: true
    },
    {
      name: 'fit4', type: 'line', xAxisIndex: 0, yAxisIndex: 0, data: stage4Fit,
      symbol: 'none', lineStyle: { color: '#c00000', width: 12 }, silent: true
    },
    {
      name: 'hist0', type: 'line', xAxisIndex: 1, yAxisIndex: 1,
      data: stepData(stage0HistStart, stage0HistWidth, stage0HistDensity),
      step: 'end', symbol: 'none', lineStyle: { width: 0 },
      areaStyle: { color: 'rgba(26,74,114,0.55)', opacity: 1 }, silent: true
    },
    {
      name: 'hist4', type: 'line', xAxisIndex: 1, yAxisIndex: 1,
      data: stepData(stage4HistStart, stage4HistWidth, stage4HistDensity),
      step: 'end', symbol: 'none', lineStyle: { width: 0 },
      areaStyle: { color: 'rgba(192,0,0,0.5)', opacity: 1 }, silent: true
    },
    {
      name: 'entropyMargin', type: 'custom', xAxisIndex: 2, yAxisIndex: 2,
      data: [[0, entropyMarginBin[0], entropyMarginBin[1]]],
      renderItem: function (params, api) {
        const p0 = api.coord([0, api.value(2)]);
        const p1 = api.coord([1, api.value(1)]);
        return { type: 'rect', shape: { x: p0[0], y: p0[1], width: p1[0] - p0[0], height: p1[1] - p0[1] },
          style: { fill: 'rgba(26,74,114,0.55)' } };
      },
      silent: true
    },
    {
      name: 'annotation', type: 'scatter', xAxisIndex: 0, yAxisIndex: 0,
      data: [annotationPos], symbolSize: 0, silent: true, z: 6,
      label: {
        show: true, position: 'right', distance: 0,
        formatter: 'Inversion:\ndensity\u2191 entropy\u2193',
        fontFamily: SERIF, fontSize: 53, lineHeight: 58, color: '#c00000', align: 'left'
      }
    },
    {
      name: 'arrow', type: 'scatter', xAxisIndex: 0, yAxisIndex: 0,
      data: [arrowPos], symbol: 'path://M0,0 L10,5 L0,10 L0,6.4 L3.8,5 L0,3.6 Z', symbolSize: [24, 24],
      symbolRotate: 10, itemStyle: { color: '#c00000' }, silent: true, z: 6
    }
  ]
};

chart.setOption(option);
</script>
</body>
</html>
